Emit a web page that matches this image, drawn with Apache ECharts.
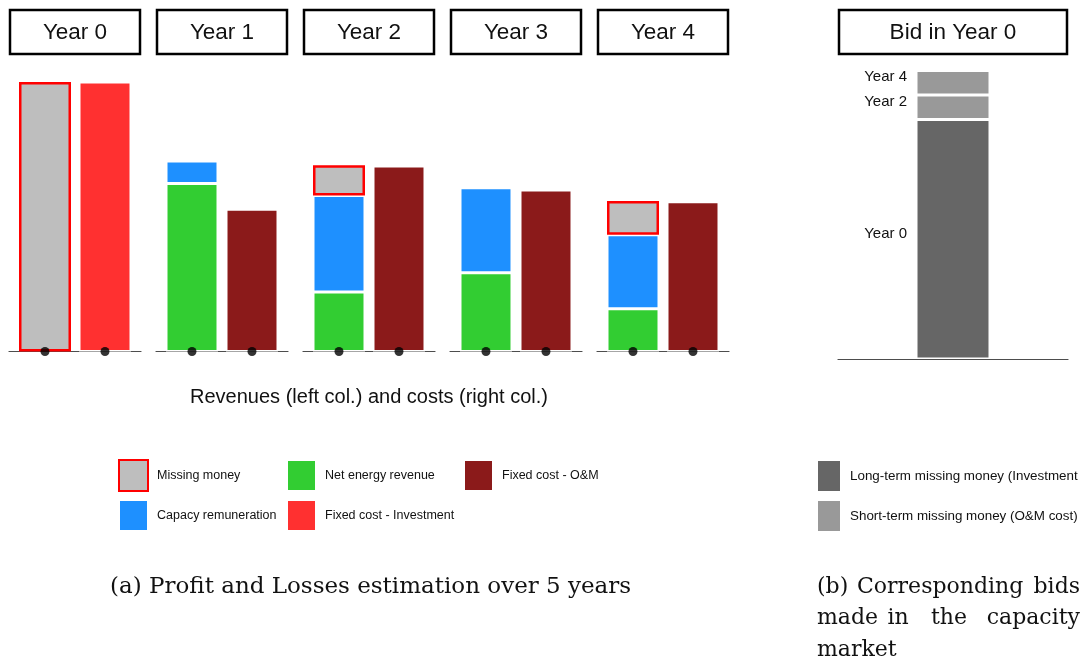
<!DOCTYPE html>
<html>
<head>
<meta charset="utf-8">
<script src="https://cdn.jsdelivr.net/npm/echarts@6/dist/echarts.min.js"></script>
<style>
  html, body { margin: 0; padding: 0; background: #ffffff; }
  #chart { width: 1081px; height: 662px; }
</style>
</head>
<body>
<div id="chart"></div>
<script>
// Profit and losses over five years (revenues stacked left, costs right)
const years = ['Year 0', 'Year 1', 'Year 2', 'Year 3', 'Year 4'];
const columns = ['Revenues', 'Costs'];
const netEnergyRevenue = [null, 62.3, 22.1, 29.2, 15.9];
const capacityRemuneration = [null, 8.4, 35.8, 31.6, 27.4];
const missingMoney = [100, null, 11.2, null, 12.5];
const fixedCostInvestment = [100, null, null, null, null];
const fixedCostOM = [null, 52.8, 68.8, 59.9, 55.6];

// Bid made in year 0 in the capacity market
const bidTitle = 'Bid in Year 0';
const bidSegments = ['Year 0', 'Year 2', 'Year 4'];
const bidValues = [100, 10.2, 10.2];
const bidKinds = [
  'Long-term missing money (Investment cost)',
  'Short-term missing money (O&M cost)',
  'Short-term missing money (O&M cost)'
];

const axisTitle = 'Revenues (left col.) and costs (right col.)';
const captionA = '(a) Profit and Losses estimation over 5 years';
const captionB = [['(b)', 'Corresponding', 'bids'], ['made', 'in', 'the', 'capacity'], ['market']];

const SANS = '"Liberation Sans", Arial, Helvetica, sans-serif';
const SERIF = '"DejaVu Serif", "Liberation Serif", serif';
const COLORS = {
  missing: '#bebebe',
  capacity: '#1e90ff',
  energy: '#32cd32',
  investment: '#ff3030',
  om: '#8b1a1a',
  longTerm: '#666666',
  shortTerm: '#999999'
};

const grids = [];
const xAxes = [];
const yAxes = [];
const series = [];
const graphics = [];

const PANEL_STEP = 147;
const PANEL_LEFT = 9;
const PANEL_WIDTH = 132;
const PLOT_TOP = 82;
const PLOT_HEIGHT = 269.5;

years.forEach(function (year, i) {
  const left = PANEL_LEFT + PANEL_STEP * i;
  const lineGrid = 2 * i;      // baseline and column markers
  const barGrid = 2 * i + 1;   // stacked columns

  grids.push({ left: left, width: PANEL_WIDTH, top: PLOT_TOP, height: PLOT_HEIGHT });
  xAxes.push({
    type: 'value', gridIndex: lineGrid, min: -0.6, max: 1.6,
    axisLine: { show: true, onZero: false, lineStyle: { color: '#4d4d4d', width: 1.2 } },
    axisTick: { show: false }, axisLabel: { show: false }, splitLine: { show: false }
  });
  yAxes.push({ type: 'value', gridIndex: lineGrid, min: 0, max: 100, show: false });

  grids.push({ left: left + 6, width: PANEL_WIDTH - 12, top: PLOT_TOP, height: PLOT_HEIGHT });
  xAxes.push({ type: 'category', gridIndex: barGrid, data: columns, show: false });
  yAxes.push({ type: 'value', gridIndex: barGrid, min: 0, max: 100, show: false });

  const stack = 'panel' + i;
  function addBar(name, values, col, color, extraStyle) {
    const v = values[i];
    if (v == null) return;
    const data = col === 0 ? [v, '-'] : ['-', v];
    series.push({
      type: 'bar', name: name, xAxisIndex: barGrid, yAxisIndex: barGrid, stack: stack,
      barWidth: 52, data: data, silent: true,
      itemStyle: Object.assign({ color: color, borderColor: '#ffffff', borderWidth: 1.5 }, extraStyle || {})
    });
  }
  addBar('Net energy revenue', netEnergyRevenue, 0, COLORS.energy);
  addBar('Capacy remuneration', capacityRemuneration, 0, COLORS.capacity);
  addBar('Missing money', missingMoney, 0, COLORS.missing, { borderColor: '#ff0000', borderWidth: 2.5 });
  addBar('Fixed cost - Investment', fixedCostInvestment, 1, COLORS.investment);
  addBar('Fixed cost - O&M', fixedCostOM, 1, COLORS.om);

  series.push({
    type: 'scatter', xAxisIndex: lineGrid, yAxisIndex: lineGrid, data: [[0, 0], [1, 0]],
    symbolSize: 9, itemStyle: { color: '#000000' }, z: 5, clip: false, silent: true
  });

  graphics.push({
    type: 'rect', shape: { x: left + 1, y: 10, width: PANEL_WIDTH - 2, height: 44 },
    style: { fill: '#ffffff', stroke: '#000000', lineWidth: 2.5 }
  });
  graphics.push({
    type: 'text', x: left + PANEL_WIDTH / 2, y: 33,
    style: { text: year, font: '22.5px ' + SANS, fill: '#111111',
      textAlign: 'center', align: 'center', textVerticalAlign: 'middle', verticalAlign: 'middle' }
  });
});

// Bid panel
const BID = 10;
grids.push({ left: 838, width: 230, top: 59.6, height: 299.4 });
xAxes.push({
  type: 'category', gridIndex: BID, data: [bidTitle],
  axisLine: { show: true, lineStyle: { color: '#4d4d4d', width: 1.2 } },
  axisTick: { show: false }, axisLabel: { show: false }, splitLine: { show: false }
});
yAxes.push({ type: 'value', gridIndex: BID, min: 0, max: 125, show: false });
bidValues.forEach(function (v, k) {
  series.push({
    type: 'bar', name: bidKinds[k], xAxisIndex: BID, yAxisIndex: BID, stack: 'bid',
    barWidth: 74, data: [v], silent: true,
    itemStyle: { color: k === 0 ? COLORS.longTerm : COLORS.shortTerm, borderColor: '#ffffff', borderWidth: 1.5 },
    label: { show: true, position: 'left', distance: 9, offset: [0, -5.5], formatter: bidSegments[k],
      fontFamily: SANS, fontSize: 15, color: '#111111' }
  });
});
graphics.push({
  type: 'rect', shape: { x: 839, y: 10, width: 228, height: 44 },
  style: { fill: '#ffffff', stroke: '#000000', lineWidth: 2.5 }
});
graphics.push({
  type: 'text', x: 953, y: 33,
  style: { text: bidTitle, font: '22.5px ' + SANS, fill: '#111111',
    textAlign: 'center', align: 'center', textVerticalAlign: 'middle', verticalAlign: 'middle' }
});

// Axis title under the yearly panels
graphics.push({
  type: 'text', x: 369, y: 397,
  style: { text: axisTitle, font: '20px ' + SANS, fill: '#111111',
    textAlign: 'center', align: 'center', textVerticalAlign: 'middle', verticalAlign: 'middle' }
});

// Captions (sub-figure b is set as justified lines, one word at a time)
function captionText(text, x, y, align, size) {
  graphics.push({
    type: 'text', x: x, y: y,
    style: { text: text, font: size + 'px ' + SERIF, fill: '#111111',
      textAlign: align, align: align, textVerticalAlign: 'middle', verticalAlign: 'middle' }
  });
}
captionText(captionA, 110, 587, 'left', 23);
const lineY = [587, 618, 650];
const B = 22;
captionText(captionB[0][0], 817, lineY[0], 'left', B);
captionText(captionB[0][1], 857, lineY[0], 'left', B);
captionText(captionB[0][2], 1080, lineY[0], 'right', B);
captionText(captionB[1][0], 817, lineY[1], 'left', B);
captionText(captionB[1][1], 898, lineY[1], 'center', B);
captionText(captionB[1][2], 949, lineY[1], 'center', B);
captionText(captionB[1][3], 1080, lineY[1], 'right', B);
captionText(captionB[2][0], 817, lineY[2], 'left', B);

const legendBase = {
  orient: 'vertical', icon: 'rect', itemWidth: 29, itemHeight: 31, itemGap: 7, padding: 0,
  selectedMode: false,
  textStyle: { fontFamily: SANS, fontSize: 12.5, color: '#111111', padding: [0, 0, 0, 4] }
};

const chart = echarts.init(document.getElementById('chart'), null, { renderer: 'canvas' });
chart.setOption({
  backgroundColor: '#ffffff',
  animation: false,
  grid: grids,
  xAxis: xAxes,
  yAxis: yAxes,
  series: series,
  legend: [
    Object.assign({}, legendBase, { left: 118, top: 459, data: ['Missing money', 'Capacy remuneration'] }),
    Object.assign({}, legendBase, { left: 286, top: 459, data: ['Net energy revenue', 'Fixed cost - Investment'] }),
    Object.assign({}, legendBase, { left: 463, top: 459, data: ['Fixed cost - O&M'] }),
    Object.assign({}, legendBase, { left: 816, top: 459, itemWidth: 24, itemHeight: 32, itemGap: 6,
      textStyle: { fontFamily: SANS, fontSize: 13.4, color: '#111111', padding: [0, 0, 0, 4] },
      data: [bidKinds[0], bidKinds[1]] })
  ],
  graphic: graphics
});
</script>
</body>
</html>
